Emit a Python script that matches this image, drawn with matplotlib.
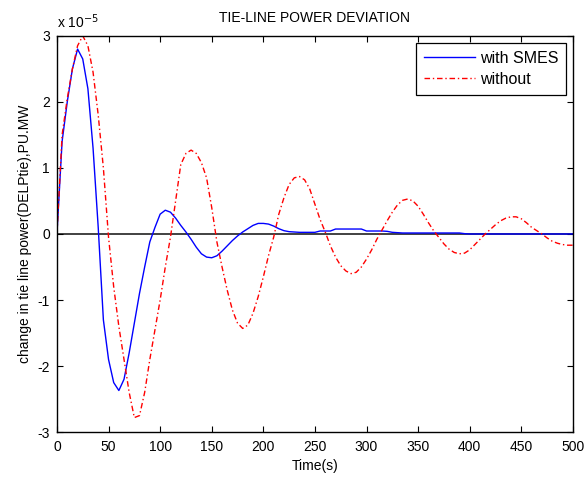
''' Tie-line power deviation, with and without SMES '''

import numpy as np
import matplotlib
matplotlib.use('Agg')
import matplotlib.pyplot as plt

plt.rcParams['font.family'] = ['Liberation Sans', 'DejaVu Sans']
plt.rcParams['axes.unicode_minus'] = False

# time axis (s), every 5 s
TIME = list(range(0, 501, 5))

# tie-line power deviation, in units of 1e-5 pu MW
WITH_SMES = [
    0.0, 1.4, 2.0, 2.5, 2.8, 2.65, 2.2, 1.3, 0.1, -1.3,    # 0-45
    -1.9, -2.25, -2.37, -2.2, -1.8, -1.35, -0.9, -0.5, -0.12, 0.1,  # 50-95
    0.3, 0.36, 0.33, 0.24, 0.13, 0.03, -0.08, -0.2, -0.3, -0.35,  # 100-145
    -0.36, -0.33, -0.26, -0.18, -0.1, -0.03, 0.03, 0.08, 0.13, 0.16,  # 150-195
    0.16, 0.15, 0.12, 0.08, 0.05, 0.035, 0.03, 0.025, 0.025, 0.025,  # 200-245
    0.025, 0.045, 0.045, 0.045, 0.075, 0.075, 0.075, 0.075, 0.075, 0.075,  # 250-295
    0.045, 0.045, 0.045, 0.045, 0.04, 0.025, 0.02, 0.015, 0.015, 0.015,  # 300-345
    0.015, 0.015, 0.015, 0.015, 0.015, 0.015, 0.015, 0.015, 0.015, 0.005,  # 350-395
    0.0, 0.0, 0.0, 0.0, 0.0, 0.0, 0.0, 0.0, 0.0, 0.0,  # 400-445
    0.0, 0.0, 0.0, 0.0, 0.0, 0.0, 0.0, 0.0, 0.0, 0.0,  # 450-495
    0.0,  # 500
]
WITHOUT = [
    0.0, 1.5, 2.05, 2.5, 2.85, 3.0, 2.85, 2.45, 1.8, 1.0,  # 0-45
    -0.05, -0.8, -1.4, -1.9, -2.4, -2.78, -2.75, -2.4, -1.9, -1.45,  # 50-95
    -1.0, -0.5, -0.05, 0.5, 1.05, 1.22, 1.27, 1.22, 1.08, 0.85,  # 100-145
    0.4, -0.12, -0.5, -0.85, -1.15, -1.35, -1.43, -1.38, -1.2, -0.95,  # 150-195
    -0.65, -0.33, -0.05, 0.3, 0.55, 0.75, 0.85, 0.87, 0.82, 0.68,  # 200-245
    0.45, 0.22, 0.03, -0.18, -0.35, -0.48, -0.56, -0.6, -0.58, -0.5,  # 250-295
    -0.38, -0.24, -0.08, 0.06, 0.2, 0.33, 0.44, 0.51, 0.53, 0.5,  # 300-345
    0.42, 0.3, 0.17, 0.05, -0.05, -0.15, -0.23, -0.28, -0.3, -0.29,  # 350-395
    -0.24, -0.16, -0.08, 0.0, 0.07, 0.14, 0.2, 0.24, 0.26, 0.26,  # 400-445
    0.23, 0.17, 0.1, 0.05, 0.0, -0.06, -0.11, -0.14, -0.16, -0.17,  # 450-495
    -0.17,  # 500
]

X_TICKS = list(range(0, 501, 50))
Y_TICKS = [-3, -2, -1, 0, 1, 2, 3]


def main():
    fig = plt.figure(figsize=(5.87, 4.78), dpi=100)
    ax = fig.add_axes([0.097, 0.096, 0.879, 0.829])

    ax.plot(TIME, WITH_SMES, color='#0000ff', linewidth=1.0, label='with SMES')
    ax.plot(TIME, WITHOUT, color='#ff0000', linewidth=1.0,
            linestyle=(0, (4, 2, 1, 2)), label='without')
    ax.axhline(0, color='#333333', linewidth=1.3, zorder=1)

    ax.set_xlim(0, 500)
    ax.set_ylim(-3, 3)
    ax.set_xticks(X_TICKS)
    ax.set_yticks(Y_TICKS)
    ax.tick_params(direction='in', top=True, right=True, length=4,
                   labelsize=10, width=0.8)
    ax.tick_params(axis='x', pad=6)
    ax.tick_params(axis='y', pad=5)
    for sp in ax.spines.values():
        sp.set_linewidth(1.0)

    ax.set_title('TIE-LINE POWER DEVIATION', fontsize=10, pad=10)
    ax.set_xlabel('Time(s)', fontsize=10, labelpad=3)
    ax.set_ylabel('change in tie line power(DELPtie),PU.MW', fontsize=10,
                  labelpad=4)
    ax.text(0.0, 1.012, 'x 10$^{-5}$', transform=ax.transAxes,
            fontsize=10, ha='left', va='bottom')

    leg = ax.legend(loc='upper right', fontsize=11.5, handlelength=3.2,
                    handletextpad=0.3, fancybox=False, framealpha=1,
                    edgecolor='black', borderaxespad=0.42, borderpad=0.5,
                    labelspacing=0.38)
    leg.get_frame().set_linewidth(0.9)

    fig.savefig('out.png', dpi=100)


if __name__ == '__main__':
    main()
